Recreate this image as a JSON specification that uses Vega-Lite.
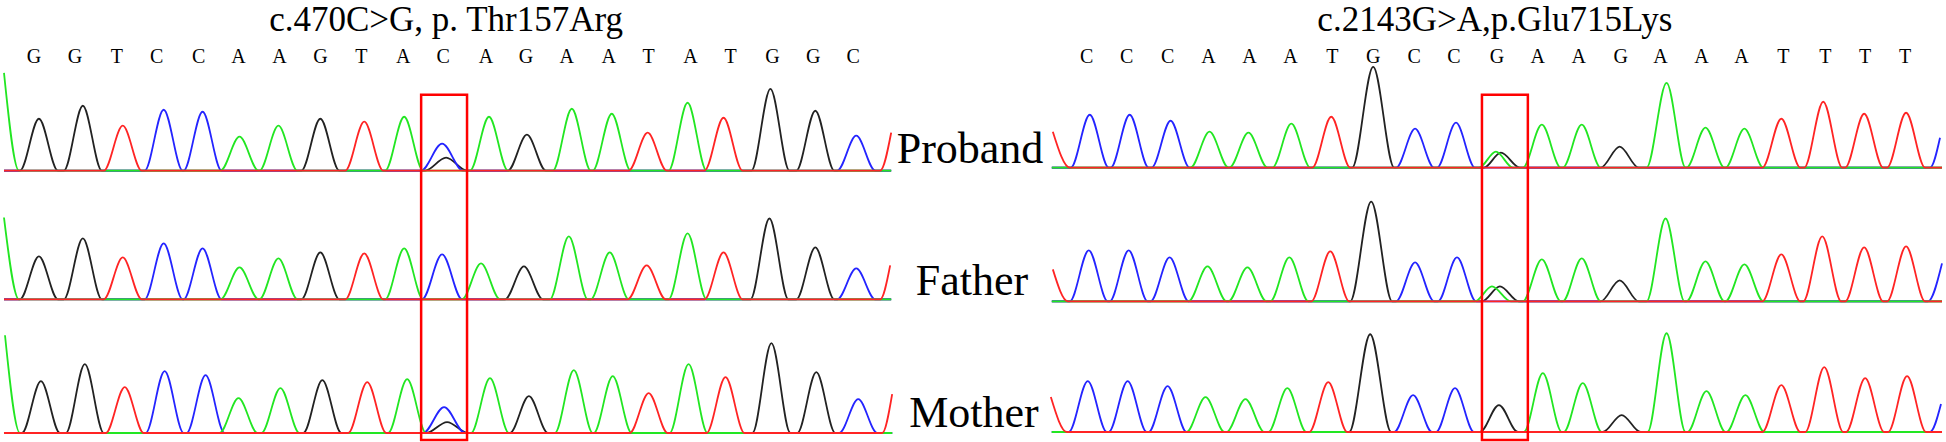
{
"$schema":"https://vega.github.io/schema/vega-lite/v6.json",
"width":1946,"height":442,
"autosize":{"type":"fit","contains":"padding"},
"padding":0,
"background":"white",
"config":{"view":{"stroke":null}},
"datasets":{
"traces":[
{"s":"L1","b":"G","x":2,"y":171},{"s":"L1","b":"G","x":18,"y":171},{"s":"L1","b":"G","x":37,"y":119},{"s":"L1","b":"G","x":56,"y":171},{"s":"L1","b":"G","x":62,"y":171},{"s":"L1","b":"G","x":81,"y":106},{"s":"L1","b":"G","x":100,"y":171},{"s":"L1","b":"G","x":300,"y":171},{"s":"L1","b":"G","x":319,"y":119},{"s":"L1","b":"G","x":338,"y":171},{"s":"L1","b":"G","x":424,"y":171},{"s":"L1","b":"G","x":445,"y":158},{"s":"L1","b":"G","x":466,"y":171},{"s":"L1","b":"G","x":507,"y":171},{"s":"L1","b":"G","x":526,"y":135},{"s":"L1","b":"G","x":545,"y":171},{"s":"L1","b":"G","x":751,"y":171},{"s":"L1","b":"G","x":770,"y":89},{"s":"L1","b":"G","x":789,"y":171},{"s":"L1","b":"G","x":796,"y":171},{"s":"L1","b":"G","x":815,"y":111},{"s":"L1","b":"G","x":834,"y":171},{"s":"L1","b":"G","x":891,"y":171},
{"s":"L2","b":"G","x":2,"y":300},{"s":"L2","b":"G","x":18,"y":300},{"s":"L2","b":"G","x":37,"y":257},{"s":"L2","b":"G","x":56,"y":300},{"s":"L2","b":"G","x":62,"y":300},{"s":"L2","b":"G","x":81,"y":239},{"s":"L2","b":"G","x":100,"y":300},{"s":"L2","b":"G","x":300,"y":300},{"s":"L2","b":"G","x":319,"y":253},{"s":"L2","b":"G","x":338,"y":300},{"s":"L2","b":"G","x":504,"y":300},{"s":"L2","b":"G","x":523,"y":267},{"s":"L2","b":"G","x":542,"y":300},{"s":"L2","b":"G","x":750,"y":300},{"s":"L2","b":"G","x":769,"y":219},{"s":"L2","b":"G","x":788,"y":300},{"s":"L2","b":"G","x":796,"y":300},{"s":"L2","b":"G","x":815,"y":248},{"s":"L2","b":"G","x":834,"y":300},{"s":"L2","b":"G","x":891,"y":300},
{"s":"L3","b":"G","x":2,"y":434},{"s":"L3","b":"G","x":20,"y":434},{"s":"L3","b":"G","x":39,"y":382},{"s":"L3","b":"G","x":58,"y":434},{"s":"L3","b":"G","x":64,"y":434},{"s":"L3","b":"G","x":83,"y":365},{"s":"L3","b":"G","x":102,"y":434},{"s":"L3","b":"G","x":302,"y":434},{"s":"L3","b":"G","x":321,"y":381},{"s":"L3","b":"G","x":340,"y":434},{"s":"L3","b":"G","x":425,"y":434},{"s":"L3","b":"G","x":446,"y":423},{"s":"L3","b":"G","x":467,"y":434},{"s":"L3","b":"G","x":509,"y":434},{"s":"L3","b":"G","x":528,"y":397},{"s":"L3","b":"G","x":547,"y":434},{"s":"L3","b":"G","x":752,"y":434},{"s":"L3","b":"G","x":771,"y":344},{"s":"L3","b":"G","x":790,"y":434},{"s":"L3","b":"G","x":797,"y":434},{"s":"L3","b":"G","x":816,"y":373},{"s":"L3","b":"G","x":835,"y":434},{"s":"L3","b":"G","x":892,"y":434},
{"s":"R1","b":"G","x":1052,"y":168},{"s":"R1","b":"G","x":1353,"y":168},{"s":"R1","b":"G","x":1374,"y":67},{"s":"R1","b":"G","x":1395,"y":168},{"s":"R1","b":"G","x":1485,"y":168},{"s":"R1","b":"G","x":1502,"y":153},{"s":"R1","b":"G","x":1521,"y":168},{"s":"R1","b":"G","x":1602,"y":168},{"s":"R1","b":"G","x":1621,"y":147},{"s":"R1","b":"G","x":1640,"y":168},{"s":"R1","b":"G","x":1944,"y":168},
{"s":"R2","b":"G","x":1052,"y":302},{"s":"R2","b":"G","x":1351,"y":302},{"s":"R2","b":"G","x":1372,"y":202},{"s":"R2","b":"G","x":1393,"y":302},{"s":"R2","b":"G","x":1483,"y":302},{"s":"R2","b":"G","x":1501,"y":287},{"s":"R2","b":"G","x":1520,"y":302},{"s":"R2","b":"G","x":1602,"y":302},{"s":"R2","b":"G","x":1621,"y":281},{"s":"R2","b":"G","x":1640,"y":302},{"s":"R2","b":"G","x":1944,"y":302},
{"s":"R3","b":"G","x":1052,"y":433},{"s":"R3","b":"G","x":1350,"y":433},{"s":"R3","b":"G","x":1371,"y":335},{"s":"R3","b":"G","x":1392,"y":433},{"s":"R3","b":"G","x":1481,"y":433},{"s":"R3","b":"G","x":1500,"y":406},{"s":"R3","b":"G","x":1519,"y":433},{"s":"R3","b":"G","x":1604,"y":433},{"s":"R3","b":"G","x":1623,"y":416},{"s":"R3","b":"G","x":1642,"y":433},{"s":"R3","b":"G","x":1944,"y":433},

{"s":"L1","b":"C","x":2,"y":171},{"s":"L1","b":"C","x":143,"y":171},{"s":"L1","b":"C","x":162,"y":110},{"s":"L1","b":"C","x":181,"y":171},{"s":"L1","b":"C","x":182,"y":171},{"s":"L1","b":"C","x":201,"y":112},{"s":"L1","b":"C","x":220,"y":171},{"s":"L1","b":"C","x":420,"y":171},{"s":"L1","b":"C","x":441,"y":144},{"s":"L1","b":"C","x":462,"y":171},{"s":"L1","b":"C","x":837,"y":171},{"s":"L1","b":"C","x":856,"y":136},{"s":"L1","b":"C","x":875,"y":171},{"s":"L1","b":"C","x":891,"y":171},
{"s":"L2","b":"C","x":2,"y":300},{"s":"L2","b":"C","x":143,"y":300},{"s":"L2","b":"C","x":162,"y":244},{"s":"L2","b":"C","x":181,"y":300},{"s":"L2","b":"C","x":182,"y":300},{"s":"L2","b":"C","x":201,"y":249},{"s":"L2","b":"C","x":220,"y":300},{"s":"L2","b":"C","x":421,"y":300},{"s":"L2","b":"C","x":441,"y":255},{"s":"L2","b":"C","x":461,"y":300},{"s":"L2","b":"C","x":837,"y":300},{"s":"L2","b":"C","x":856,"y":269},{"s":"L2","b":"C","x":875,"y":300},{"s":"L2","b":"C","x":891,"y":300},
{"s":"L3","b":"C","x":2,"y":434},{"s":"L3","b":"C","x":144,"y":434},{"s":"L3","b":"C","x":163,"y":372},{"s":"L3","b":"C","x":182,"y":434},{"s":"L3","b":"C","x":185,"y":434},{"s":"L3","b":"C","x":204,"y":376},{"s":"L3","b":"C","x":223,"y":434},{"s":"L3","b":"C","x":422,"y":434},{"s":"L3","b":"C","x":443,"y":408},{"s":"L3","b":"C","x":464,"y":434},{"s":"L3","b":"C","x":839,"y":434},{"s":"L3","b":"C","x":858,"y":400},{"s":"L3","b":"C","x":877,"y":434},{"s":"L3","b":"C","x":892,"y":434},
{"s":"R1","b":"C","x":1052,"y":168},{"s":"R1","b":"C","x":1071,"y":168},{"s":"R1","b":"C","x":1090,"y":115},{"s":"R1","b":"C","x":1109,"y":168},{"s":"R1","b":"C","x":1111,"y":168},{"s":"R1","b":"C","x":1130,"y":115},{"s":"R1","b":"C","x":1149,"y":168},{"s":"R1","b":"C","x":1152,"y":168},{"s":"R1","b":"C","x":1171,"y":121},{"s":"R1","b":"C","x":1190,"y":168},{"s":"R1","b":"C","x":1397,"y":168},{"s":"R1","b":"C","x":1416,"y":129},{"s":"R1","b":"C","x":1435,"y":168},{"s":"R1","b":"C","x":1438,"y":168},{"s":"R1","b":"C","x":1457,"y":123},{"s":"R1","b":"C","x":1476,"y":168},{"s":"R1","b":"C","x":1932,"y":168},{"s":"R1","b":"C","x":1942,"y":138},
{"s":"R2","b":"C","x":1052,"y":302},{"s":"R2","b":"C","x":1070,"y":302},{"s":"R2","b":"C","x":1089,"y":251},{"s":"R2","b":"C","x":1108,"y":302},{"s":"R2","b":"C","x":1110,"y":302},{"s":"R2","b":"C","x":1129,"y":251},{"s":"R2","b":"C","x":1148,"y":302},{"s":"R2","b":"C","x":1151,"y":302},{"s":"R2","b":"C","x":1170,"y":258},{"s":"R2","b":"C","x":1189,"y":302},{"s":"R2","b":"C","x":1397,"y":302},{"s":"R2","b":"C","x":1416,"y":263},{"s":"R2","b":"C","x":1435,"y":302},{"s":"R2","b":"C","x":1439,"y":302},{"s":"R2","b":"C","x":1458,"y":258},{"s":"R2","b":"C","x":1477,"y":302},{"s":"R2","b":"C","x":1930,"y":302},{"s":"R2","b":"C","x":1944,"y":264},
{"s":"R3","b":"C","x":1052,"y":433},{"s":"R3","b":"C","x":1069,"y":433},{"s":"R3","b":"C","x":1088,"y":382},{"s":"R3","b":"C","x":1107,"y":433},{"s":"R3","b":"C","x":1109,"y":433},{"s":"R3","b":"C","x":1128,"y":382},{"s":"R3","b":"C","x":1147,"y":433},{"s":"R3","b":"C","x":1149,"y":433},{"s":"R3","b":"C","x":1168,"y":387},{"s":"R3","b":"C","x":1187,"y":433},{"s":"R3","b":"C","x":1395,"y":433},{"s":"R3","b":"C","x":1414,"y":396},{"s":"R3","b":"C","x":1433,"y":433},{"s":"R3","b":"C","x":1437,"y":433},{"s":"R3","b":"C","x":1456,"y":389},{"s":"R3","b":"C","x":1475,"y":433},{"s":"R3","b":"C","x":1932,"y":433},{"s":"R3","b":"C","x":1943,"y":405},

{"s":"L1","b":"A","x":2,"y":73},{"s":"L1","b":"A","x":17,"y":171},{"s":"L1","b":"A","x":219,"y":171},{"s":"L1","b":"A","x":238,"y":137},{"s":"L1","b":"A","x":257,"y":171},{"s":"L1","b":"A","x":258,"y":171},{"s":"L1","b":"A","x":277,"y":126},{"s":"L1","b":"A","x":296,"y":171},{"s":"L1","b":"A","x":384,"y":171},{"s":"L1","b":"A","x":403,"y":117},{"s":"L1","b":"A","x":422,"y":171},{"s":"L1","b":"A","x":469,"y":171},{"s":"L1","b":"A","x":488,"y":117},{"s":"L1","b":"A","x":507,"y":171},{"s":"L1","b":"A","x":552,"y":171},{"s":"L1","b":"A","x":571,"y":109},{"s":"L1","b":"A","x":590,"y":171},{"s":"L1","b":"A","x":592,"y":171},{"s":"L1","b":"A","x":611,"y":114},{"s":"L1","b":"A","x":630,"y":171},{"s":"L1","b":"A","x":668,"y":171},{"s":"L1","b":"A","x":687,"y":103},{"s":"L1","b":"A","x":706,"y":171},{"s":"L1","b":"A","x":891,"y":171},
{"s":"L2","b":"A","x":2,"y":218},{"s":"L2","b":"A","x":17,"y":300},{"s":"L2","b":"A","x":219,"y":300},{"s":"L2","b":"A","x":238,"y":268},{"s":"L2","b":"A","x":257,"y":300},{"s":"L2","b":"A","x":258,"y":300},{"s":"L2","b":"A","x":277,"y":259},{"s":"L2","b":"A","x":296,"y":300},{"s":"L2","b":"A","x":384,"y":300},{"s":"L2","b":"A","x":403,"y":249},{"s":"L2","b":"A","x":422,"y":300},{"s":"L2","b":"A","x":461,"y":300},{"s":"L2","b":"A","x":480,"y":264},{"s":"L2","b":"A","x":499,"y":300},{"s":"L2","b":"A","x":549,"y":300},{"s":"L2","b":"A","x":568,"y":237},{"s":"L2","b":"A","x":587,"y":300},{"s":"L2","b":"A","x":590,"y":300},{"s":"L2","b":"A","x":609,"y":253},{"s":"L2","b":"A","x":628,"y":300},{"s":"L2","b":"A","x":668,"y":300},{"s":"L2","b":"A","x":687,"y":234},{"s":"L2","b":"A","x":706,"y":300},{"s":"L2","b":"A","x":891,"y":300},
{"s":"L3","b":"A","x":3,"y":336},{"s":"L3","b":"A","x":18,"y":434},{"s":"L3","b":"A","x":218,"y":434},{"s":"L3","b":"A","x":237,"y":399},{"s":"L3","b":"A","x":256,"y":434},{"s":"L3","b":"A","x":260,"y":434},{"s":"L3","b":"A","x":279,"y":389},{"s":"L3","b":"A","x":298,"y":434},{"s":"L3","b":"A","x":387,"y":434},{"s":"L3","b":"A","x":406,"y":380},{"s":"L3","b":"A","x":425,"y":434},{"s":"L3","b":"A","x":470,"y":434},{"s":"L3","b":"A","x":489,"y":379},{"s":"L3","b":"A","x":508,"y":434},{"s":"L3","b":"A","x":554,"y":434},{"s":"L3","b":"A","x":573,"y":371},{"s":"L3","b":"A","x":592,"y":434},{"s":"L3","b":"A","x":593,"y":434},{"s":"L3","b":"A","x":612,"y":377},{"s":"L3","b":"A","x":631,"y":434},{"s":"L3","b":"A","x":669,"y":434},{"s":"L3","b":"A","x":688,"y":365},{"s":"L3","b":"A","x":707,"y":434},{"s":"L3","b":"A","x":892,"y":434},
{"s":"R1","b":"A","x":1052,"y":168},{"s":"R1","b":"A","x":1191,"y":168},{"s":"R1","b":"A","x":1210,"y":132},{"s":"R1","b":"A","x":1229,"y":168},{"s":"R1","b":"A","x":1230,"y":168},{"s":"R1","b":"A","x":1249,"y":133},{"s":"R1","b":"A","x":1268,"y":168},{"s":"R1","b":"A","x":1273,"y":168},{"s":"R1","b":"A","x":1292,"y":124},{"s":"R1","b":"A","x":1311,"y":168},{"s":"R1","b":"A","x":1480,"y":168},{"s":"R1","b":"A","x":1497,"y":152},{"s":"R1","b":"A","x":1514,"y":168},{"s":"R1","b":"A","x":1524,"y":168},{"s":"R1","b":"A","x":1543,"y":125},{"s":"R1","b":"A","x":1562,"y":168},{"s":"R1","b":"A","x":1564,"y":168},{"s":"R1","b":"A","x":1583,"y":125},{"s":"R1","b":"A","x":1602,"y":168},{"s":"R1","b":"A","x":1648,"y":168},{"s":"R1","b":"A","x":1668,"y":83},{"s":"R1","b":"A","x":1687,"y":168},{"s":"R1","b":"A","x":1688,"y":168},{"s":"R1","b":"A","x":1707,"y":128},{"s":"R1","b":"A","x":1726,"y":168},{"s":"R1","b":"A","x":1727,"y":168},{"s":"R1","b":"A","x":1746,"y":129},{"s":"R1","b":"A","x":1765,"y":168},{"s":"R1","b":"A","x":1944,"y":168},
{"s":"R2","b":"A","x":1052,"y":302},{"s":"R2","b":"A","x":1189,"y":302},{"s":"R2","b":"A","x":1208,"y":267},{"s":"R2","b":"A","x":1227,"y":302},{"s":"R2","b":"A","x":1229,"y":302},{"s":"R2","b":"A","x":1248,"y":268},{"s":"R2","b":"A","x":1267,"y":302},{"s":"R2","b":"A","x":1271,"y":302},{"s":"R2","b":"A","x":1290,"y":258},{"s":"R2","b":"A","x":1309,"y":302},{"s":"R2","b":"A","x":1476,"y":302},{"s":"R2","b":"A","x":1493,"y":287},{"s":"R2","b":"A","x":1512,"y":302},{"s":"R2","b":"A","x":1524,"y":302},{"s":"R2","b":"A","x":1543,"y":260},{"s":"R2","b":"A","x":1562,"y":302},{"s":"R2","b":"A","x":1564,"y":302},{"s":"R2","b":"A","x":1583,"y":259},{"s":"R2","b":"A","x":1602,"y":302},{"s":"R2","b":"A","x":1648,"y":302},{"s":"R2","b":"A","x":1667,"y":219},{"s":"R2","b":"A","x":1686,"y":302},{"s":"R2","b":"A","x":1688,"y":302},{"s":"R2","b":"A","x":1707,"y":262},{"s":"R2","b":"A","x":1726,"y":302},{"s":"R2","b":"A","x":1727,"y":302},{"s":"R2","b":"A","x":1746,"y":265},{"s":"R2","b":"A","x":1765,"y":302},{"s":"R2","b":"A","x":1944,"y":302},
{"s":"R3","b":"A","x":1052,"y":433},{"s":"R3","b":"A","x":1187,"y":433},{"s":"R3","b":"A","x":1206,"y":398},{"s":"R3","b":"A","x":1225,"y":433},{"s":"R3","b":"A","x":1227,"y":433},{"s":"R3","b":"A","x":1246,"y":400},{"s":"R3","b":"A","x":1265,"y":433},{"s":"R3","b":"A","x":1269,"y":433},{"s":"R3","b":"A","x":1288,"y":389},{"s":"R3","b":"A","x":1307,"y":433},{"s":"R3","b":"A","x":1525,"y":433},{"s":"R3","b":"A","x":1544,"y":374},{"s":"R3","b":"A","x":1563,"y":433},{"s":"R3","b":"A","x":1565,"y":433},{"s":"R3","b":"A","x":1584,"y":384},{"s":"R3","b":"A","x":1603,"y":433},{"s":"R3","b":"A","x":1649,"y":433},{"s":"R3","b":"A","x":1668,"y":334},{"s":"R3","b":"A","x":1687,"y":433},{"s":"R3","b":"A","x":1689,"y":433},{"s":"R3","b":"A","x":1708,"y":392},{"s":"R3","b":"A","x":1727,"y":433},{"s":"R3","b":"A","x":1728,"y":433},{"s":"R3","b":"A","x":1747,"y":396},{"s":"R3","b":"A","x":1766,"y":433},{"s":"R3","b":"A","x":1944,"y":433},

{"s":"L1","b":"T","x":2,"y":171},{"s":"L1","b":"T","x":102,"y":171},{"s":"L1","b":"T","x":121,"y":126},{"s":"L1","b":"T","x":140,"y":171},{"s":"L1","b":"T","x":344,"y":171},{"s":"L1","b":"T","x":363,"y":122},{"s":"L1","b":"T","x":382,"y":171},{"s":"L1","b":"T","x":628,"y":171},{"s":"L1","b":"T","x":647,"y":133},{"s":"L1","b":"T","x":666,"y":171},{"s":"L1","b":"T","x":704,"y":171},{"s":"L1","b":"T","x":723,"y":118},{"s":"L1","b":"T","x":742,"y":171},{"s":"L1","b":"T","x":880,"y":171},{"s":"L1","b":"T","x":891,"y":133},
{"s":"L2","b":"T","x":2,"y":300},{"s":"L2","b":"T","x":102,"y":300},{"s":"L2","b":"T","x":121,"y":258},{"s":"L2","b":"T","x":140,"y":300},{"s":"L2","b":"T","x":344,"y":300},{"s":"L2","b":"T","x":363,"y":254},{"s":"L2","b":"T","x":382,"y":300},{"s":"L2","b":"T","x":627,"y":300},{"s":"L2","b":"T","x":646,"y":266},{"s":"L2","b":"T","x":665,"y":300},{"s":"L2","b":"T","x":704,"y":300},{"s":"L2","b":"T","x":723,"y":253},{"s":"L2","b":"T","x":742,"y":300},{"s":"L2","b":"T","x":880,"y":300},{"s":"L2","b":"T","x":890,"y":266},
{"s":"L3","b":"T","x":2,"y":434},{"s":"L3","b":"T","x":104,"y":434},{"s":"L3","b":"T","x":123,"y":388},{"s":"L3","b":"T","x":142,"y":434},{"s":"L3","b":"T","x":347,"y":434},{"s":"L3","b":"T","x":366,"y":383},{"s":"L3","b":"T","x":385,"y":434},{"s":"L3","b":"T","x":629,"y":434},{"s":"L3","b":"T","x":648,"y":394},{"s":"L3","b":"T","x":667,"y":434},{"s":"L3","b":"T","x":706,"y":434},{"s":"L3","b":"T","x":725,"y":378},{"s":"L3","b":"T","x":744,"y":434},{"s":"L3","b":"T","x":882,"y":434},{"s":"L3","b":"T","x":892,"y":395},
{"s":"R1","b":"T","x":1053,"y":132},{"s":"R1","b":"T","x":1070,"y":168},{"s":"R1","b":"T","x":1313,"y":168},{"s":"R1","b":"T","x":1332,"y":117},{"s":"R1","b":"T","x":1351,"y":168},{"s":"R1","b":"T","x":1764,"y":168},{"s":"R1","b":"T","x":1783,"y":119},{"s":"R1","b":"T","x":1802,"y":168},{"s":"R1","b":"T","x":1806,"y":168},{"s":"R1","b":"T","x":1825,"y":102},{"s":"R1","b":"T","x":1844,"y":168},{"s":"R1","b":"T","x":1847,"y":168},{"s":"R1","b":"T","x":1866,"y":114},{"s":"R1","b":"T","x":1885,"y":168},{"s":"R1","b":"T","x":1889,"y":168},{"s":"R1","b":"T","x":1908,"y":113},{"s":"R1","b":"T","x":1927,"y":168},{"s":"R1","b":"T","x":1944,"y":168},
{"s":"R2","b":"T","x":1053,"y":270},{"s":"R2","b":"T","x":1068,"y":302},{"s":"R2","b":"T","x":1312,"y":302},{"s":"R2","b":"T","x":1331,"y":252},{"s":"R2","b":"T","x":1350,"y":302},{"s":"R2","b":"T","x":1764,"y":302},{"s":"R2","b":"T","x":1783,"y":255},{"s":"R2","b":"T","x":1802,"y":302},{"s":"R2","b":"T","x":1805,"y":302},{"s":"R2","b":"T","x":1824,"y":237},{"s":"R2","b":"T","x":1843,"y":302},{"s":"R2","b":"T","x":1847,"y":302},{"s":"R2","b":"T","x":1866,"y":248},{"s":"R2","b":"T","x":1885,"y":302},{"s":"R2","b":"T","x":1889,"y":302},{"s":"R2","b":"T","x":1908,"y":247},{"s":"R2","b":"T","x":1927,"y":302},{"s":"R2","b":"T","x":1944,"y":302},
{"s":"R3","b":"T","x":1051,"y":398},{"s":"R3","b":"T","x":1067,"y":433},{"s":"R3","b":"T","x":1310,"y":433},{"s":"R3","b":"T","x":1329,"y":383},{"s":"R3","b":"T","x":1348,"y":433},{"s":"R3","b":"T","x":1764,"y":433},{"s":"R3","b":"T","x":1783,"y":386},{"s":"R3","b":"T","x":1802,"y":433},{"s":"R3","b":"T","x":1807,"y":433},{"s":"R3","b":"T","x":1826,"y":368},{"s":"R3","b":"T","x":1845,"y":433},{"s":"R3","b":"T","x":1848,"y":433},{"s":"R3","b":"T","x":1867,"y":379},{"s":"R3","b":"T","x":1886,"y":433},{"s":"R3","b":"T","x":1890,"y":433},{"s":"R3","b":"T","x":1909,"y":377},{"s":"R3","b":"T","x":1928,"y":433},{"s":"R3","b":"T","x":1944,"y":433}
],
"titles":[
{"t":"c.470C>G, p. Thr157Arg","x":445,"y":31.5},
{"t":"c.2143G>A,p.Glu715Lys","x":1496,"y":31.5}
],
"bases":[
{"t":"G","x":32},{"t":"G","x":73},{"t":"T","x":115},{"t":"C","x":155},{"t":"C","x":197},{"t":"A","x":237},{"t":"A","x":278},{"t":"G","x":319},{"t":"T","x":360},{"t":"A","x":402},{"t":"C","x":442},{"t":"A","x":485},{"t":"G","x":525},{"t":"A","x":566},{"t":"A","x":608},{"t":"T","x":648},{"t":"A","x":690},{"t":"T","x":730},{"t":"G","x":772},{"t":"G","x":813},{"t":"C","x":853},
{"t":"C","x":1087},{"t":"C","x":1127},{"t":"C","x":1168},{"t":"A","x":1209},{"t":"A","x":1250},{"t":"A","x":1291},{"t":"T","x":1333},{"t":"G","x":1374},{"t":"C","x":1415},{"t":"C","x":1455},{"t":"G","x":1498},{"t":"A","x":1539},{"t":"A","x":1580},{"t":"G","x":1622},{"t":"A","x":1662},{"t":"A","x":1703},{"t":"A","x":1743},{"t":"T","x":1785},{"t":"T","x":1827},{"t":"T","x":1867},{"t":"T","x":1907}
],
"labels":[
{"t":"Proband","x":970,"y":163},
{"t":"Father","x":972,"y":296},
{"t":"Mother","x":974,"y":428}
],
"boxes":[
{"x":420,"x2":466,"y":95,"y2":441},
{"x":1483,"x2":1529,"y":95,"y2":441}
]
},
"layer":[
{
"data":{"name":"traces"},
"mark":{"type":"line","interpolate":"monotone","strokeWidth":1.8},
"encoding":{
"x":{"field":"x","type":"quantitative","scale":{"domain":[0,1946],"nice":false,"zero":false},"axis":null},
"y":{"field":"y","type":"quantitative","scale":{"domain":[0,442],"nice":false,"zero":false,"reverse":true},"axis":null},
"detail":[{"field":"s"},{"field":"b"}],
"color":{"field":"b","type":"nominal","scale":{"domain":["G","C","A","T"],"range":["#222222","#2424ff","#22e622","#ff2424"]},"legend":null}
}
},
{
"data":{"name":"boxes"},
"mark":{"type":"rect","filled":false,"stroke":"#ff0000","strokeWidth":2.5},
"encoding":{
"x":{"field":"x","type":"quantitative"},
"x2":{"field":"x2"},
"y":{"field":"y","type":"quantitative"},
"y2":{"field":"y2"}
}
},
{
"data":{"name":"titles"},
"mark":{"type":"text","font":"Liberation Serif","fontSize":35,"align":"center","baseline":"alphabetic","color":"black"},
"encoding":{
"x":{"field":"x","type":"quantitative"},
"y":{"field":"y","type":"quantitative"},
"text":{"field":"t"}
}
},
{
"data":{"name":"bases"},
"mark":{"type":"text","font":"Liberation Serif","fontSize":20,"align":"center","baseline":"alphabetic","color":"black"},
"encoding":{
"x":{"field":"x","type":"quantitative"},
"y":{"datum":63,"type":"quantitative"},
"text":{"field":"t"}
}
},
{
"data":{"name":"labels"},
"mark":{"type":"text","font":"Liberation Serif","fontSize":44,"align":"center","baseline":"alphabetic","color":"black"},
"encoding":{
"x":{"field":"x","type":"quantitative"},
"y":{"field":"y","type":"quantitative"},
"text":{"field":"t"}
}
}
]
}
